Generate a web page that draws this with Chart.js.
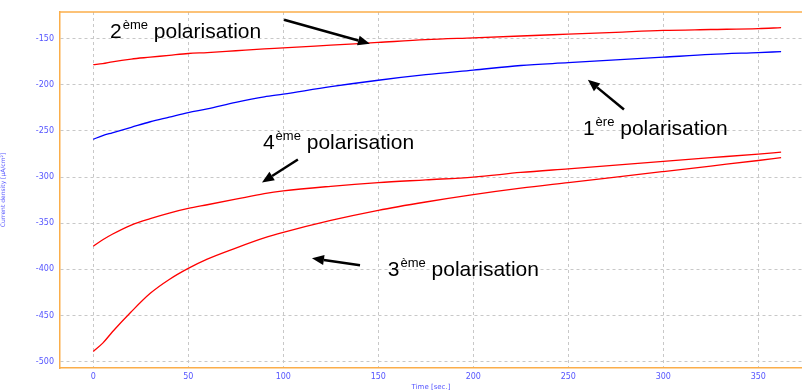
<!DOCTYPE html>
<html>
<head>
<meta charset="utf-8">
<script src="https://cdn.jsdelivr.net/npm/chart.js@4"></script>
<style>
  html, body { margin: 0; padding: 0; background: #fff; }
  .canvas-container { width: 802px; height: 391px; position: relative; }
</style>
</head>
<body>
<div class="canvas-container"><canvas id="chart"></canvas></div>
<script>
// temps en secondes
const times = [0, 5, 10, 20, 30, 40, 50, 60, 75, 90, 100, 125, 150, 175, 200, 225, 250, 275, 300, 325, 350, 362];

// densité de courant (µA/cm²)
const pol1 = [-259, -255, -252, -246, -240, -235, -230, -226, -219, -213, -210, -202, -195, -189, -184, -179, -176, -173, -170, -167, -165, -164];
const pol2 = [-178, -177, -175, -172, -170, -168, -166, -165, -163, -161, -160, -157, -154, -151, -149, -147, -145, -143, -141, -140, -139, -138];
const pol3 = [-489, -480, -468, -446, -426, -411, -399, -389, -377, -366, -360, -347, -336, -327, -319, -312, -306, -300, -294, -288, -282, -279];
const pol4 = [-375, -368, -362, -352, -345, -339, -334, -330, -324, -318, -315, -310, -306, -303, -300, -295, -291, -287, -283, -279, -275, -273];

const xTicks = [0, 50, 100, 150, 200, 250, 300, 350];
const yTicks = [-150, -200, -250, -300, -350, -400, -450, -500];

// étiquettes et flèches (coordonnées en unités des axes)
const labels = [
  { num: '2', sup: 'ème', x: 8.8, y: -148.9 },
  { num: '1', sup: 'ère', x: 257.7, y: -253.9 },
  { num: '4', sup: 'ème', x: 89.3, y: -270 },
  { num: '3', sup: 'ème', x: 155, y: -407.6 }
];
const arrows = [
  { x0: 100.4, y0: -129.4, x1: 145.6, y1: -155.4 },
  { x0: 279.3, y0: -226.8, x1: 260.3, y1: -194.4 },
  { x0: 107.7, y0: -281, x1: 88.8, y1: -305.8 },
  { x0: 140.4, y0: -395.7, x1: 115.1, y1: -388.1 }
];

function toPoints(ys) {
  return times.map((t, i) => ({ x: t, y: ys[i] }));
}

const orange = '#fbae4a';
const tickBlue = '#5555ff';

const annotations = {
  id: 'annotations',
  afterDatasetsDraw(chart) {
    const ctx = chart.ctx;
    const xs = chart.scales.x, ys = chart.scales.y;
    const area = chart.chartArea;
    ctx.save();
    // bord du haut
    ctx.strokeStyle = orange;
    ctx.lineWidth = 1.5;
    ctx.beginPath();
    ctx.moveTo(area.left, area.top);
    ctx.lineTo(chart.width, area.top);
    ctx.stroke();

    ctx.fillStyle = '#000';
    ctx.textBaseline = 'alphabetic';
    ctx.textAlign = 'left';
    labels.forEach(l => {
      let px = xs.getPixelForValue(l.x);
      const py = ys.getPixelForValue(l.y);
      ctx.font = '21px "Liberation Sans", Arial, sans-serif';
      ctx.fillText(l.num, px, py);
      px += ctx.measureText(l.num).width + 1;
      ctx.font = '13px "Liberation Sans", Arial, sans-serif';
      ctx.fillText(l.sup, px, py - 9);
      px += ctx.measureText(l.sup).width;
      ctx.font = '21px "Liberation Sans", Arial, sans-serif';
      ctx.fillText(' polarisation', px, py);
    });

    ctx.strokeStyle = '#000';
    ctx.lineWidth = 2.5;
    arrows.forEach(a => {
      const x0 = xs.getPixelForValue(a.x0), y0 = ys.getPixelForValue(a.y0);
      const x1 = xs.getPixelForValue(a.x1), y1 = ys.getPixelForValue(a.y1);
      const ang = Math.atan2(y1 - y0, x1 - x0);
      const len = 12, w = 5;
      const bx = x1 - len * Math.cos(ang), by = y1 - len * Math.sin(ang);
      ctx.beginPath();
      ctx.moveTo(x0, y0);
      ctx.lineTo(bx, by);
      ctx.stroke();
      ctx.beginPath();
      ctx.moveTo(x1, y1);
      ctx.lineTo(bx + w * Math.sin(ang), by - w * Math.cos(ang));
      ctx.lineTo(bx - w * Math.sin(ang), by + w * Math.cos(ang));
      ctx.closePath();
      ctx.fill();
    });
    ctx.restore();
  }
};

const ds = (ys, color) => ({
  data: toPoints(ys),
  borderColor: color,
  borderWidth: 1.3,
  pointRadius: 0,
  fill: false,
  cubicInterpolationMode: 'monotone'
});

const canvas = document.getElementById('chart');
const ctx = canvas.getContext('2d');
const myChart = new Chart(ctx, {
  type: 'scatter',
  data: {
    datasets: [
      ds(pol2, '#ff0000'),
      ds(pol1, '#0000ff'),
      ds(pol4, '#ff0000'),
      ds(pol3, '#ff0000')
    ]
  },
  options: {
    responsive: true,
    maintainAspectRatio: false,
    animation: false,
    showLine: true,
    layout: { padding: { top: 12, left: 0, right: 0, bottom: 0 } },
    plugins: { legend: { display: false }, tooltip: { enabled: false } },
    scales: {
      x: {
        type: 'linear',
        min: -17.5,
        max: 373,
        afterFit: s => { s.height = 23; },
        afterBuildTicks: s => { s.ticks = xTicks.map(v => ({ value: v })); },
        grid: { color: '#c8c8c8', lineWidth: 1, drawTicks: false },
        border: { color: orange, width: 1.5, dash: [3, 3] },
        ticks: { color: tickBlue, font: { family: 'DejaVu Sans', size: 8 }, padding: 4, maxRotation: 0 },
        title: { display: true, text: 'Time [sec.]', color: tickBlue, font: { family: 'DejaVu Sans', size: 7 }, padding: { top: 0, bottom: 0 } }
      },
      y: {
        type: 'linear',
        min: -507,
        max: -121,
        afterFit: s => { s.width = 60; },
        afterBuildTicks: s => { s.ticks = yTicks.map(v => ({ value: v })); },
        grid: { color: '#c8c8c8', lineWidth: 1, drawTicks: false },
        border: { color: orange, width: 1.5, dash: [3, 3] },
        ticks: { color: tickBlue, font: { family: 'DejaVu Sans', size: 8 }, padding: 6 },
        title: { display: true, text: 'Current density [µA/cm²]', color: tickBlue, font: { family: 'DejaVu Sans', size: 6 }, padding: { top: 0, bottom: 0 } }
      }
    }
  },
  plugins: [annotations]
});
</script>
</body>
</html>
